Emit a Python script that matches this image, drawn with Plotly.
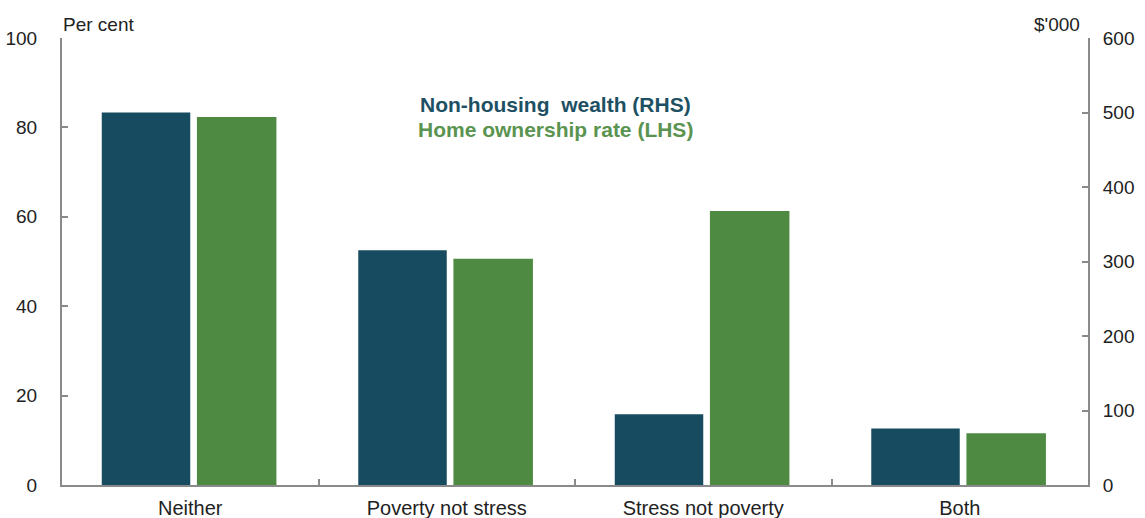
import plotly.graph_objects as go

# Categories and series values
categories = ["Neither", "Poverty not stress", "Stress not poverty", "Both"]
wealth_thousands = [500, 315, 95, 76]          # Non-housing wealth, $'000 (RHS)
ownership_pct = [82.3, 50.6, 61.3, 11.6]       # Home ownership rate, per cent (LHS)

left_ticks = [0, 20, 40, 60, 80, 100]
right_ticks = [0, 100, 200, 300, 400, 500, 600]

DARK = "#174B5F"
GREEN = "#4E8A42"
AXIS = "#8A8A8A"
FONT = "Liberation Sans"

fig = go.Figure()
fig.add_trace(go.Bar(
    x=categories, y=wealth_thousands, name="Non-housing wealth (RHS)",
    yaxis="y2", marker=dict(color=DARK, line=dict(width=0)),
    width=0.345, offset=-0.345, showlegend=False,
))
fig.add_trace(go.Bar(
    x=categories, y=ownership_pct, name="Home ownership rate (LHS)",
    yaxis="y", marker=dict(color=GREEN, line=dict(width=0)),
    width=0.31, offset=0.026, showlegend=False,
))

fig.update_layout(
    width=1145, height=518,
    margin=dict(l=62, r=57, t=38, b=33),
    paper_bgcolor="white", plot_bgcolor="white",
    font=dict(family=FONT, size=19, color="#222222"),
    barmode="overlay",
    xaxis=dict(
        type="category", showline=True, linecolor=AXIS, linewidth=2,
        ticks="inside", tickson="boundaries", ticklen=6, tickcolor=AXIS, tickwidth=1.5,
        tickfont=dict(size=20), ticklabelstandoff=4,
        showgrid=False, zeroline=False, range=[-0.5, 3.5], automargin=False,
    ),
    yaxis=dict(
        range=[0, 100], tickvals=left_ticks, showline=True, linecolor=AXIS, linewidth=2,
        ticks="inside", ticklen=6, tickcolor=AXIS, tickwidth=1.5,
        ticklabelstandoff=19, showgrid=False, zeroline=False, tickfont=dict(size=19),
        automargin=False,
    ),
    yaxis2=dict(
        range=[0, 600], tickvals=right_ticks, overlaying="y", side="right",
        showline=True, linecolor=AXIS, linewidth=2,
        ticks="inside", ticklen=6, tickcolor=AXIS, tickwidth=1.5,
        ticklabelstandoff=9, showgrid=False, zeroline=False, tickfont=dict(size=19),
        automargin=False,
    ),
    annotations=[
        dict(text="Per cent", xref="paper", yref="paper", x=-0.001, y=1.0,
             xanchor="left", yanchor="bottom", yshift=1, showarrow=False,
             font=dict(size=19)),
        dict(text="$'000", xref="paper", yref="paper", x=0.994, y=1.0,
             xanchor="right", yanchor="bottom", yshift=1, showarrow=False,
             font=dict(size=19)),
        dict(text="<b>Non-housing  wealth (RHS)</b>", xref="paper", yref="paper",
             x=0.481, y=0.852, xanchor="center", yanchor="middle", showarrow=False,
             font=dict(size=21, color="#1E5064")),
        dict(text="<b>Home ownership rate (LHS)</b>", xref="paper", yref="paper",
             x=0.481, y=0.796, xanchor="center", yanchor="middle", showarrow=False,
             font=dict(size=21, color="#5A9450")),
    ],
)

fig.write_html("out.html")
